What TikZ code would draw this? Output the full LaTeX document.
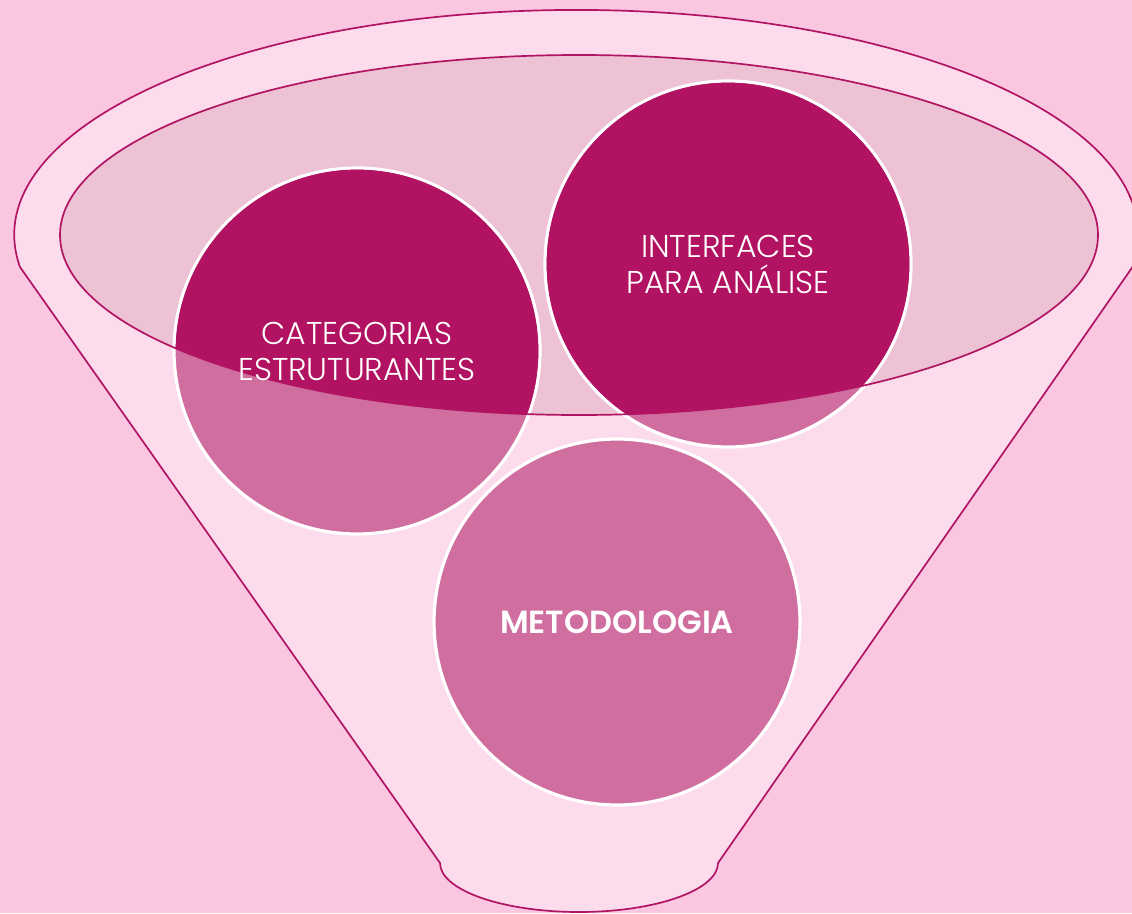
\documentclass[tikz,border=0pt]{standalone}
\usepackage{fontspec}
\setmainfont{Poppins}[UprightFont=* Light, BoldFont=* SemiBold]
\usepackage{tikz}
\usetikzlibrary{calc,positioning}

\definecolor{bgpink}{RGB}{250,198,224}
\definecolor{funnelpink}{RGB}{252,220,236}
\definecolor{rimpink}{RGB}{236,194,212}
\definecolor{rimline}{RGB}{178,20,100}
\definecolor{circdark}{RGB}{177,18,98}
\definecolor{circlight}{RGB}{208,110,160}

\begin{document}
\begin{tikzpicture}[x=1pt,y=-1pt,
	bubble/.style={circle, minimum size=366pt, inner sep=0pt, fill=circlight, draw=white, line width=3.2pt},
	bubbletext/.style={text=white, align=center, font=\fontsize{31.5}{36}\selectfont},
	rim/.style={draw=rimline, line width=1.7pt}]
	\useasboundingbox (0,0) rectangle (1132,913);
	\fill[bgpink] (0,0) rectangle (1132,913);

	% funnel body and rim
	\filldraw[fill=funnelpink, rim] (20,267) arc[start angle=171.8, end angle=368.2, x radius=562, y radius=225]
		-- (718,863) arc[start angle=0, end angle=180, x radius=139, y radius=49] -- cycle;
	\fill[rimpink] (579,235) ellipse [x radius=519, y radius=180];

	% the three circles
	\node[bubble] (cat) at (357,351) {};
	\node[bubble] (inter) at (728,264) {};
	\node[bubble] (metod) at (617,622) {};

	% darker where the circles lie inside the rim
	\begin{scope}
		\clip (579,235) ellipse [x radius=519, y radius=180];
		\fill[circdark] (cat) circle [radius=181.4];
		\fill[circdark] (inter) circle [radius=181.4];
	\end{scope}
	\draw[rim] (579,235) ellipse [x radius=519, y radius=180];

	% labels
	\node[bubbletext] (cattext) at (cat) {CATEGORIAS\\ESTRUTURANTES};
	\node[bubbletext] (intertext) at (inter) {INTERFACES\\PARA ANÁLISE};
	\node[bubbletext, font=\fontsize{32}{36}\selectfont\bfseries] (metodtext) at (metod) {METODOLOGIA};
\end{tikzpicture}
\end{document}
